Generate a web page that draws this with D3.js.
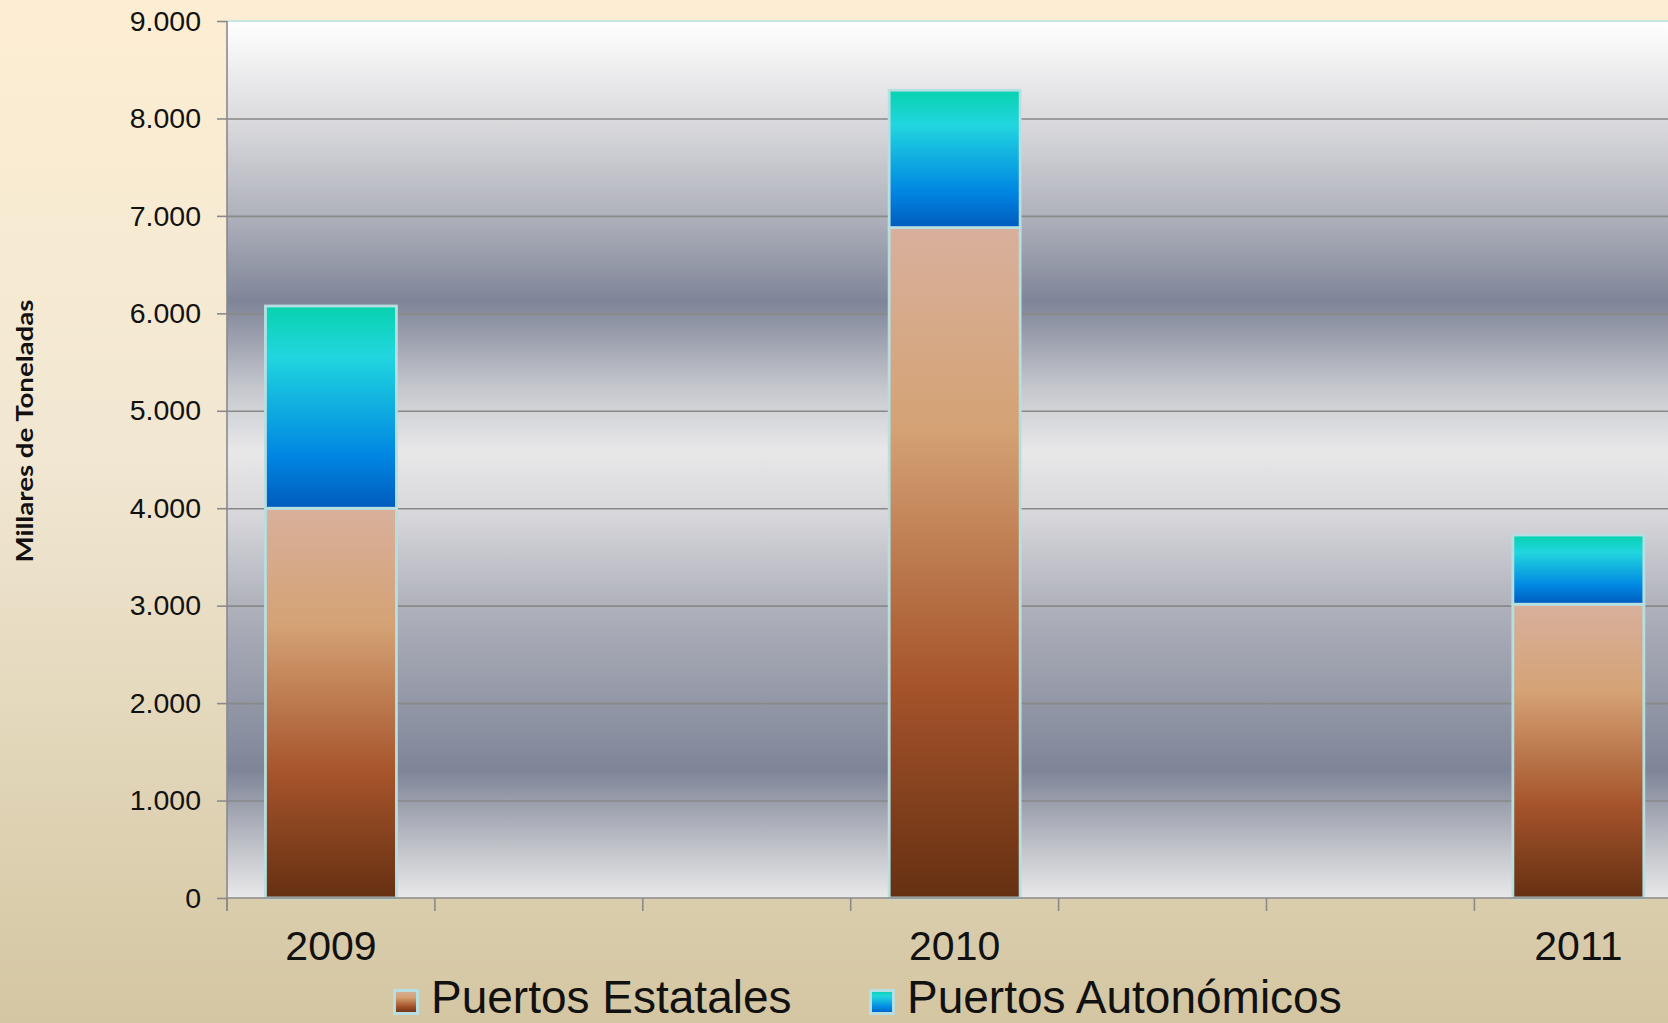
<!DOCTYPE html>
<html>
<head>
<meta charset="utf-8">
<script src="https://cdn.jsdelivr.net/npm/d3@7"></script>
<style>
  html, body { margin: 0; padding: 0; overflow: hidden; }
  svg { display: block; }
</style>
</head>
<body>
<svg id="chart" width="1668" height="1023"></svg>
<script>
// ---- data ----
const categories = ["2009", "", "", "2010", "", "", "2011", ""];
const estatales   = [4000, null, null, 6880, null, null, 3015, null];
const autonomicos = [2075, null, null, 1410, null, null, 710, null];
const seriesNames = ["Puertos Estatales", "Puertos Autonómicos"];
const yTicks = [0, 1000, 2000, 3000, 4000, 5000, 6000, 7000, 8000, 9000];
const yTitle = "Millares de Toneladas";

// ---- layout ----
const W = 1668, H = 1023;
const plot = { left: 227, top: 21, bottom: 898, step: 207.9 };
const plotRight = plot.left + plot.step * categories.length;

const svg = d3.select("#chart");
const defs = svg.append("defs");

function linGrad(id, stops) {
  const g = defs.append("linearGradient").attr("id", id)
    .attr("x1", 0).attr("y1", 0).attr("x2", 0).attr("y2", 1);
  stops.forEach(([o, c]) => g.append("stop").attr("offset", o).attr("stop-color", c));
}
linGrad("bgGrad", [[0, "#fdeed3"], [0.45, "#f1e7d2"], [1, "#d4c6a2"]]);
linGrad("plotGrad", [
  [0, "#ffffff"], [0.11, "#dcdcdf"], [0.22, "#b0b2bc"], [0.32, "#7f8598"],
  [0.42, "#c6c8ce"], [0.49, "#e8e8e9"], [0.56, "#d8d8dc"], [0.67, "#aeb0ba"],
  [0.78, "#9297a6"], [0.855, "#7f8598"], [0.94, "#bfc1c8"], [1, "#e9e9ea"]
]);
linGrad("gradEst", [[0, "#d8b09c"], [0.3, "#d4a274"], [0.68, "#a6542b"], [1, "#653012"]]);
linGrad("gradAut", [[0, "#07d2ae"], [0.25, "#21d6df"], [0.74, "#0086e2"], [1, "#005bbd"]]);
const fills = ["url(#gradEst)", "url(#gradAut)"];
const borderColor = "#b7dfe2";

// background
svg.append("rect").attr("width", W).attr("height", H).attr("fill", "url(#bgGrad)");

// scales
const slot = d3.scaleBand().domain(d3.range(categories.length))
  .range([plot.left, plotRight]).padding(0);
const y = d3.scaleLinear().domain([0, 9000]).range([plot.bottom, plot.top]);

// plot area
svg.append("rect")
  .attr("x", plot.left).attr("y", y(9000))
  .attr("width", plotRight - plot.left).attr("height", y(0) - y(9000))
  .attr("fill", "url(#plotGrad)");

// gridlines
svg.append("g")
  .attr("transform", `translate(${plot.left},0)`)
  .call(d3.axisLeft(y).tickValues(yTicks.filter(v => v > 0 && v < 9000))
    .tickSize(-(plotRight - plot.left)).tickFormat(""))
  .call(g => g.select(".domain").remove())
  .call(g => g.selectAll("line").attr("stroke", "#898989").attr("stroke-width", 1.6));

// top border of plot
svg.append("line")
  .attr("x1", plot.left).attr("x2", plotRight)
  .attr("y1", y(9000)).attr("y2", y(9000))
  .attr("stroke", borderColor).attr("stroke-width", 1.6);

// stacked bars
const records = categories.map((c, i) => ({ i, est: estatales[i] || 0, aut: autonomicos[i] || 0 }));
const stack = d3.stack().keys(["est", "aut"])(records);
const barInset = 0.185, barFrac = 0.63;
stack.forEach((layer, k) => {
  svg.append("g").selectAll("rect")
    .data(layer.filter(d => d[1] > d[0]))
    .join("rect")
    .attr("x", d => slot(d.data.i) + slot.bandwidth() * barInset)
    .attr("width", slot.bandwidth() * barFrac)
    .attr("y", d => y(d[1]))
    .attr("height", d => y(d[0]) - y(d[1]))
    .attr("fill", fills[k])
    .attr("stroke", borderColor)
    .attr("stroke-width", 2.8);
});

// y axis
const fmt = d3.formatLocale({ decimal: ",", thousands: ".", grouping: [3], currency: ["", "€"] }).format(",d");
svg.append("g")
  .attr("transform", `translate(${plot.left},0)`)
  .call(d3.axisLeft(y).tickValues(yTicks).tickFormat(fmt)
    .tickSizeInner(10).tickSizeOuter(0).tickPadding(16))
  .call(g => g.select(".domain").attr("stroke", "#8a8a8a").attr("stroke-width", 1.6)
    .attr("d", `M0,${plot.top}V${plot.bottom + 13}`))
  .call(g => g.selectAll("line").attr("stroke", "#8a8a8a").attr("stroke-width", 1.6))
  .call(g => g.selectAll("text")
    .attr("fill", "#111")
    .style("font-family", "'Liberation Sans', Arial, sans-serif")
    .style("font-size", "28.5px"));

// x axis baseline & boundary ticks
svg.append("line")
  .attr("x1", plot.left).attr("x2", plotRight)
  .attr("y1", y(0)).attr("y2", y(0))
  .attr("stroke", "#8a8a8a").attr("stroke-width", 1.6);
svg.append("g").selectAll("line")
  .data(d3.range(categories.length + 1))
  .join("line")
  .attr("x1", i => plot.left + slot.step() * i)
  .attr("x2", i => plot.left + slot.step() * i)
  .attr("y1", y(0)).attr("y2", y(0) + 13)
  .attr("stroke", "#8a8a8a").attr("stroke-width", 1.6);

// x labels
svg.append("g")
  .attr("transform", `translate(0,${plot.bottom})`)
  .call(d3.axisBottom(slot).tickSize(0).tickPadding(33).tickFormat(i => categories[i]))
  .call(g => g.select(".domain").remove())
  .call(g => g.selectAll("text")
    .attr("fill", "#111")
    .style("font-family", "'Liberation Sans', Arial, sans-serif")
    .style("font-size", "41px"));

// y title
svg.append("text")
  .attr("transform", "translate(33,431) rotate(-90)")
  .attr("text-anchor", "middle")
  .attr("textLength", 263).attr("lengthAdjust", "spacingAndGlyphs")
  .style("font-family", "Lato, 'Open Sans', sans-serif")
  .style("font-weight", "bold")
  .style("font-size", "23px")
  .attr("fill", "#111")
  .text(yTitle);

// legend
const legendX = [393, 869];
const lg = svg.append("g");
seriesNames.forEach((name, k) => {
  lg.append("rect")
    .attr("x", legendX[k] + 1.5).attr("y", 990.5)
    .attr("width", 23).attr("height", 23)
    .attr("fill", fills[k])
    .attr("stroke", borderColor).attr("stroke-width", 3);
  lg.append("text")
    .attr("x", legendX[k] + 38).attr("y", 1013)
    .style("font-family", "'Liberation Sans', Arial, sans-serif")
    .style("font-size", "46px")
    .attr("fill", "#111")
    .text(name);
});
</script>
</body>
</html>
